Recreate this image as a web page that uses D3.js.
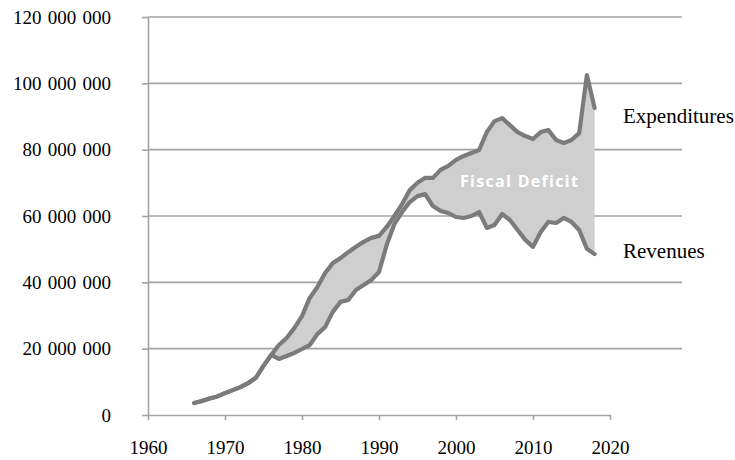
<!DOCTYPE html>
<html>
<head>
<meta charset="utf-8">
<script src="https://cdn.jsdelivr.net/npm/d3@7"></script>
<style>
  body { margin: 0; background: #fff; }
  .tick text { font-family: "Liberation Serif", "Times New Roman", serif; fill: #000; }
</style>
</head>
<body>
<div id="chart"></div>
<script>
// chart size
var svgWidth = 735;
var svgHeight = 460;

var margin = { top: 17, left: 148 };
var plotW = 462;   // 1960 -> 2020
var gridW = 534;   // gridlines run past the last year tick
var plotH = 398;

// data
var years = [1966, 1967, 1968, 1969, 1970, 1971, 1972, 1973, 1974, 1975,
  1976, 1977, 1978, 1979, 1980, 1981, 1982, 1983, 1984, 1985,
  1986, 1987, 1988, 1989, 1990, 1991, 1992, 1993, 1994, 1995,
  1996, 1997, 1998, 1999, 2000, 2001, 2002, 2003, 2004, 2005,
  2006, 2007, 2008, 2009, 2010, 2011, 2012, 2013, 2014, 2015,
  2016, 2017, 2018];

// millions
var expenditures = [3.6, 4.2, 5.0, 5.6, 6.6, 7.5, 8.4, 9.6, 11.2, 14.8,
  18.1, 21.1, 23.2, 26.2, 29.8, 35.3, 38.6, 42.8, 45.8, 47.3,
  49.1, 50.7, 52.2, 53.4, 54.0, 56.7, 60.0, 63.6, 67.8, 70.0,
  71.5, 71.5, 73.9, 75.1, 76.9, 78.1, 79.0, 79.9, 85.3, 88.6,
  89.5, 87.4, 85.3, 84.1, 83.2, 85.3, 85.9, 82.9, 82.0, 82.9,
  85.0, 102.5, 92.6];

var revenues = [3.6, 4.2, 5.0, 5.6, 6.6, 7.5, 8.4, 9.6, 11.2, 14.8,
  18.1, 16.9, 17.8, 18.7, 19.9, 21.1, 24.4, 26.5, 31.1, 34.1,
  34.7, 37.7, 39.2, 40.7, 43.1, 51.3, 57.6, 61.2, 64.2, 66.0,
  66.6, 63.0, 61.5, 60.9, 59.7, 59.4, 60.0, 61.2, 56.4, 57.3,
  60.6, 58.8, 55.8, 52.8, 50.7, 55.2, 58.2, 57.9, 59.4, 58.2,
  55.8, 50.1, 48.5];

var xTicks = [1960, 1970, 1980, 1990, 2000, 2010, 2020];
var yTicks = [0, 20e6, 40e6, 60e6, 80e6, 100e6, 120e6];

var data = years.map(function (yr, i) {
  return { year: yr, exp: expenditures[i] * 1e6, rev: revenues[i] * 1e6 };
});

var svg = d3.select("#chart")
  .append("svg")
  .attr("width", svgWidth)
  .attr("height", svgHeight);

var g = svg.append("g")
  .attr("transform", `translate(${margin.left}, ${margin.top})`);

var x = d3.scaleLinear().domain([1960, 2020]).range([0, plotW]);
var y = d3.scaleLinear().domain([0, 120e6]).range([plotH, 0]);

var gridColor = "#a3a3a3";
var lineColor = "#7b7b7b";

// gridlines (not the zero line, that is the x axis)
g.selectAll("line.grid")
  .data(yTicks.filter(d => d > 0))
  .enter()
  .append("line")
  .attr("class", "grid")
  .attr("x1", 0)
  .attr("x2", gridW)
  .attr("y1", d => y(d))
  .attr("y2", d => y(d))
  .attr("stroke", gridColor)
  .attr("stroke-width", 1.6);

// y axis
var fmt = d => d3.format(",")(d).replace(/,/g, " ");
var leftAxis = d3.axisLeft(y)
  .tickValues(yTicks)
  .tickFormat(fmt)
  .tickSizeInner(6)
  .tickSizeOuter(0)
  .tickPadding(31);

var yAxis = g.append("g").call(leftAxis);
yAxis.select(".domain").attr("stroke", gridColor).attr("stroke-width", 1.6);
yAxis.selectAll(".tick line").attr("stroke", gridColor).attr("stroke-width", 1.6);
yAxis.selectAll(".tick text")
  .style("font-size", "19px")
  .style("word-spacing", "1.5px");

// x axis
var bottomAxis = d3.axisBottom(x)
  .tickValues(xTicks)
  .tickFormat(d3.format("d"))
  .tickSizeInner(5)
  .tickSizeOuter(0)
  .tickPadding(21);

var xAxis = g.append("g")
  .attr("transform", `translate(0, ${plotH})`)
  .call(bottomAxis);
xAxis.select(".domain").attr("stroke", gridColor).attr("stroke-width", 1.6);
xAxis.selectAll(".tick line").attr("stroke", gridColor).attr("stroke-width", 1.6);
xAxis.selectAll(".tick text").style("font-size", "19px");

// deficit area between the two lines
var area = d3.area()
  .x(d => x(d.year))
  .y0(d => y(d.rev))
  .y1(d => y(d.exp));

g.append("path")
  .datum(data)
  .attr("d", area)
  .attr("fill", "#cfcfcf");

// lines
var expLine = d3.line().x(d => x(d.year)).y(d => y(d.exp));
var revLine = d3.line().x(d => x(d.year)).y(d => y(d.rev));

[revLine, expLine].forEach(function (ln) {
  g.append("path")
    .datum(data)
    .attr("d", ln)
    .attr("fill", "none")
    .attr("stroke", lineColor)
    .attr("stroke-width", 4.2)
    .attr("stroke-linejoin", "round")
    .attr("stroke-linecap", "round");
});

// labels
g.append("text")
  .attr("x", 312)
  .attr("y", 170)
  .attr("fill", "#fff")
  .style("font-family", "'Open Sans', sans-serif")
  .style("font-weight", "bold")
  .style("font-size", "16px")
  .style("letter-spacing", "1.3px")
  .text("Fiscal Deficit");

var serif = "'Liberation Serif', 'Times New Roman', serif";

svg.append("text")
  .attr("x", 623)
  .attr("y", 123)
  .style("font-family", serif)
  .style("font-size", "21px")
  .text("Expenditures");

svg.append("text")
  .attr("x", 623)
  .attr("y", 258)
  .style("font-family", serif)
  .style("font-size", "21px")
  .text("Revenues");
</script>
</body>
</html>
